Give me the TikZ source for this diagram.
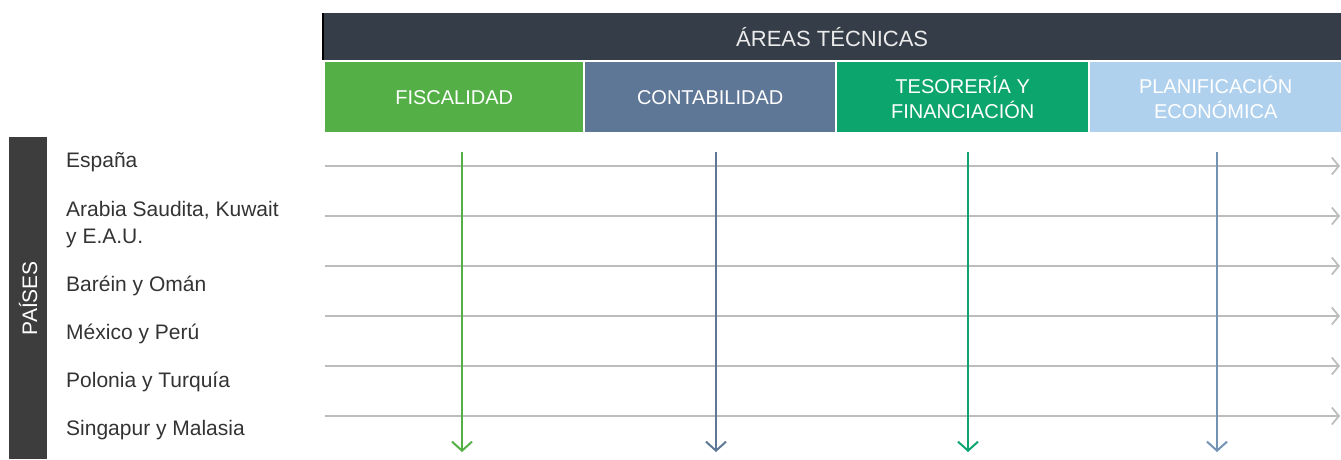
\documentclass[tikz,border=0pt]{standalone}
\usepackage{fontspec}
\setmainfont{Liberation Sans}
\usetikzlibrary{arrows.meta}
\definecolor{hdrdark}{HTML}{343D48}
\definecolor{fisc}{HTML}{54B046}
\definecolor{cont}{HTML}{5F7796}
\definecolor{teso}{HTML}{0CA56E}
\definecolor{plan}{HTML}{B0D1EE}
\definecolor{planarrow}{HTML}{7393B5}
\definecolor{paisbar}{HTML}{3D3D3D}
\definecolor{rowline}{HTML}{BDBDBD}
\definecolor{labeltext}{HTML}{333333}
\begin{document}
\begin{tikzpicture}[x=1pt,y=-1pt,
  colbox/.style={anchor=north west, minimum width=258pt, minimum height=70pt, inner sep=0pt,
     text=white, font=\fontsize{20}{25}\selectfont, align=center},
  country/.style={anchor=base west, inner sep=0pt, text=labeltext, font=\fontsize{21}{27}\selectfont, align=left},
  rowarrow/.style={draw=rowline, line width=2.6pt, -{Straight Barb[length=7pt,width=17pt,line width=1.8pt]}},
  colarrow/.style={line width=2.4pt, -{Straight Barb[length=9pt,width=20pt,line width=2pt]}}
]
\useasboundingbox (0,0) rectangle (1341,459);
% header
\node[anchor=north west, fill=hdrdark, minimum width=1018pt, minimum height=47pt, inner sep=0pt,
  text=white!92!black, font=\fontsize{22}{26}\selectfont] (hdr) at (323,13) {ÁREAS TÉCNICAS};
\draw[black, line width=2pt] (hdr.north west) -- (hdr.south west);
% columns
\node[colbox, fill=fisc] (c1) at (325,62) {FISCALIDAD};
\node[colbox, fill=cont, minimum width=250pt] (c2) at (585,62) {CONTABILIDAD};
\node[colbox, fill=teso, minimum width=251pt] (c3) at (837,62) {TESORERÍA Y\\FINANCIACIÓN};
\node[colbox, fill=plan, minimum width=251pt] (c4) at (1090,62) {PLANIFICACIÓN\\ECONÓMICA};
% paises bar
\node[anchor=north west, fill=paisbar, minimum width=38pt, minimum height=322pt, inner sep=0pt] (pbar) at (9,137) {};
\node[rotate=90, text=white, font=\fontsize{21}{24}\selectfont] (plabel) at (pbar.center) {PAÍSES};
% countries
\node[country] (k1) at (66,167) {España};
\node[country] (k2) at (66,243) {Arabia Saudita, Kuwait\\y E.A.U.};
\node[country] (k3) at (66,291) {Baréin y Omán};
\node[country] (k4) at (66,339) {México y Perú};
\node[country] (k5) at (66,387) {Polonia y Turquía};
\node[country] (k6) at (66,435) {Singapur y Malasia};
% row lines
\foreach \i/\y in {1/166,2/216,3/266,4/316,5/366,6/416}{
  \coordinate (rs\i) at (325,\y);
  \coordinate (re\i) at (1340,\y);
  \draw[rowarrow] (rs\i) -- (re\i);
}
% column arrows
\coordinate (a1) at (462,152); \coordinate (b1) at (462,452);
\coordinate (a2) at (716,152); \coordinate (b2) at (716,452);
\coordinate (a3) at (968,152); \coordinate (b3) at (968,452);
\coordinate (a4) at (1217,152); \coordinate (b4) at (1217,452);
\draw[colarrow, fisc] (a1) -- (b1);
\draw[colarrow, cont] (a2) -- (b2);
\draw[colarrow, teso] (a3) -- (b3);
\draw[colarrow, planarrow] (a4) -- (b4);
\end{tikzpicture}
\end{document}
